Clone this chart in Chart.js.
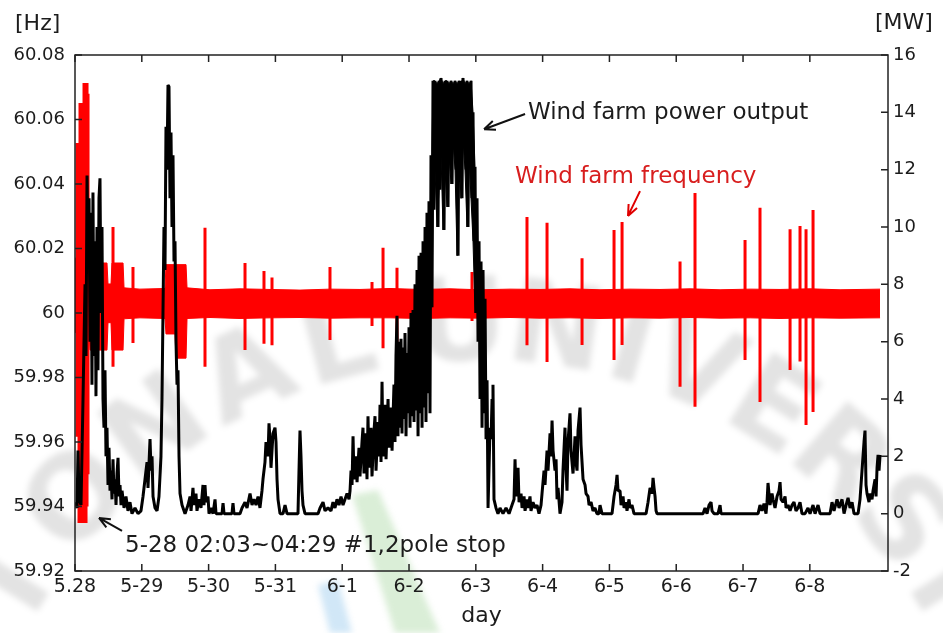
<!DOCTYPE html>
<html lang="en">
<head>
<meta charset="UTF-8" />
<title>Wind farm frequency / power output</title>
<script src="https://cdn.jsdelivr.net/npm/chart.js"></script>
<style>
  html, body { margin: 0; padding: 0; background: #fff; }
</style>
</head>
<body>
<canvas id="grafico" width="943" height="633"></canvas>
<script>
// eixo x: dias desde 5-28 00:00
const dayLabels = ['5.28', '5-29', '5-30', '5-31', '6-1', '6-2', '6-3', '6-4', '6-5', '6-6', '6-7', '6-8'];
const hzLabels = ['59.92', '59.94', '59.96', '59.98', '60', '60.02', '60.04', '60.06', '60.08'];
const mwLabels = ['-2', '0', '2', '4', '6', '8', '10', '12', '14', '16'];

// potencia do parque eolico [dia, MW]
const powerOutput = [
  [0.000, 0.4], [0.030, 0.2], [0.045, 2.2], [0.060, 0.5], [0.090, 0.3], [0.120, 4.0], [0.150, 8.0], [0.165, 5.5],
  [0.180, 11.8], [0.195, 9.0], [0.210, 11.0], [0.225, 6.0], [0.240, 10.5], [0.254, 4.5], [0.269, 11.2], [0.284, 5.5],
  [0.299, 9.5], [0.314, 4.1], [0.329, 10.0], [0.344, 5.0], [0.359, 11.0], [0.374, 11.7], [0.389, 7.0], [0.404, 10.0],
  [0.419, 4.0], [0.434, 3.0], [0.449, 5.0], [0.464, 2.0], [0.479, 3.0], [0.494, 1.0], [0.509, 2.3], [0.524, 0.8],
  [0.539, 1.5], [0.554, 0.5], [0.569, 1.9], [0.584, 0.7], [0.599, 1.2], [0.614, 0.3], [0.629, 1.4], [0.644, 1.95],
  [0.659, 0.6], [0.674, 1.0], [0.689, 0.3], [0.704, 0.8], [0.734, 0.2], [0.763, 0.6], [0.793, 0.1], [0.823, 0.4],
  [0.853, 0.0], [0.898, 0.2], [0.943, 0.0], [0.988, 0.1], [1.018, 0.6], [1.048, 1.2], [1.078, 1.8], [1.093, 0.9],
  [1.123, 2.6], [1.138, 1.5], [1.153, 2.0], [1.168, 0.6], [1.198, 0.2], [1.228, 0.1], [1.257, 0.6], [1.287, 2.0],
  [1.302, 4.0], [1.317, 7.0], [1.332, 10.0], [1.347, 8.5], [1.362, 13.5], [1.377, 12.0], [1.392, 14.95], [1.407, 14.9],
  [1.422, 11.0], [1.437, 13.3], [1.452, 10.0], [1.467, 12.5], [1.482, 8.8], [1.497, 9.5], [1.512, 6.0], [1.527, 4.5],
  [1.542, 5.0], [1.557, 2.0], [1.572, 0.7], [1.602, 0.3], [1.647, 0.0], [1.692, 0.3], [1.722, 0.6], [1.737, 0.1],
  [1.766, 0.9], [1.781, 0.3], [1.811, 0.7], [1.826, 0.1], [1.856, 0.5], [1.886, 0.2], [1.916, 1.0], [1.931, 0.3],
  [1.946, 1.0], [1.961, 0.4], [1.991, 0.6], [2.006, 0.0], [2.036, 0.2], [2.066, 0.0], [2.096, 0.5], [2.111, 0.0],
  [2.201, 0.0], [2.216, 0.37], [2.231, 0.0], [2.350, 0.0], [2.365, 0.37], [2.380, 0.0], [2.470, 0.0], [2.500, 0.2],
  [2.545, 0.4], [2.575, 0.2], [2.620, 0.7], [2.650, 0.3], [2.680, 0.5], [2.710, 0.3], [2.740, 0.6], [2.769, 0.2],
  [2.799, 0.8], [2.814, 1.2], [2.844, 1.8], [2.859, 2.5], [2.889, 2.0], [2.904, 3.15], [2.919, 2.6], [2.934, 1.6],
  [2.964, 2.8], [2.994, 3.0], [3.009, 2.5], [3.024, 1.2], [3.039, 0.5], [3.069, 0.0], [3.114, 0.0], [3.144, 0.3],
  [3.174, 0.0], [3.338, 0.0], [3.353, 1.5], [3.368, 2.9], [3.383, 2.0], [3.398, 0.8], [3.413, 0.3], [3.443, 0.0],
  [3.638, 0.0], [3.668, 0.2], [3.713, 0.4], [3.743, 0.1], [3.787, 0.2], [3.832, 0.1], [3.862, 0.4], [3.892, 0.2],
  [3.922, 0.5], [3.952, 0.3], [3.982, 0.6], [4.012, 0.3], [4.042, 0.5], [4.072, 0.7], [4.102, 0.5], [4.117, 0.8],
  [4.132, 1.5], [4.147, 1.0], [4.162, 2.7], [4.177, 1.2], [4.207, 2.0], [4.222, 1.1], [4.251, 2.3], [4.266, 1.3],
  [4.296, 2.5], [4.311, 3.0], [4.326, 1.4], [4.356, 2.8], [4.371, 1.2], [4.386, 3.4], [4.401, 1.6], [4.431, 3.0],
  [4.446, 1.3], [4.476, 2.9], [4.491, 3.4], [4.506, 1.5], [4.536, 3.2], [4.551, 2.0], [4.566, 3.8], [4.581, 1.8],
  [4.596, 4.6], [4.611, 2.0], [4.641, 3.8], [4.656, 1.9], [4.686, 4.0], [4.701, 2.3], [4.731, 3.7], [4.746, 2.2],
  [4.775, 4.5], [4.790, 2.5], [4.805, 5.5], [4.820, 6.9], [4.835, 2.7], [4.850, 6.0], [4.865, 3.0], [4.880, 6.1],
  [4.895, 2.8], [4.910, 5.8], [4.925, 3.3], [4.940, 6.3], [4.955, 2.7], [4.970, 5.6], [4.985, 3.5], [5.000, 6.5],
  [5.015, 3.0], [5.030, 7.0], [5.045, 3.4], [5.060, 7.1], [5.075, 3.2], [5.090, 8.0], [5.105, 3.6], [5.120, 8.5],
  [5.135, 2.7], [5.150, 9.0], [5.165, 3.5], [5.180, 9.1], [5.195, 3.0], [5.210, 9.5], [5.225, 3.7], [5.240, 10.0],
  [5.254, 3.2], [5.269, 10.5], [5.284, 4.2], [5.299, 10.9], [5.314, 3.5], [5.329, 12.5], [5.344, 7.2], [5.359, 15.1],
  [5.374, 10.6], [5.389, 15.1], [5.404, 12.0], [5.419, 15.0], [5.434, 10.0], [5.449, 15.1], [5.464, 11.3], [5.479, 15.2],
  [5.494, 12.5], [5.509, 15.0], [5.524, 9.9], [5.539, 15.1], [5.554, 12.0], [5.569, 15.1], [5.584, 10.7], [5.599, 15.0],
  [5.614, 12.5], [5.629, 15.1], [5.644, 11.5], [5.659, 15.0], [5.674, 13.0], [5.689, 15.1], [5.704, 12.0], [5.719, 15.0],
  [5.734, 9.0], [5.749, 15.1], [5.763, 12.5], [5.778, 15.0], [5.793, 11.0], [5.808, 15.2], [5.823, 13.1], [5.838, 15.0],
  [5.853, 12.0], [5.868, 15.1], [5.883, 10.0], [5.898, 15.0], [5.913, 12.5], [5.928, 15.1], [5.943, 11.0], [5.958, 14.0],
  [5.973, 9.5], [5.988, 12.1], [6.003, 7.0], [6.018, 11.0], [6.033, 6.0], [6.048, 9.5], [6.063, 4.0], [6.078, 8.8],
  [6.093, 3.0], [6.108, 8.5], [6.123, 3.5], [6.138, 7.5], [6.153, 2.6], [6.168, 4.65], [6.183, 0.2], [6.213, 3.0],
  [6.228, 2.6], [6.243, 4.0], [6.257, 4.5], [6.272, 0.5], [6.302, 0.2], [6.332, 0.0], [6.362, 0.2], [6.407, 0.0],
  [6.452, 0.2], [6.497, 0.0], [6.542, 0.3], [6.572, 0.5], [6.587, 1.9], [6.602, 0.6], [6.632, 1.6], [6.647, 0.4],
  [6.677, 0.7], [6.692, 0.2], [6.722, 0.6], [6.737, 0.1], [6.766, 0.5], [6.781, 0.2], [6.811, 0.6], [6.826, 0.1],
  [6.856, 0.4], [6.886, 0.2], [6.916, 0.3], [6.946, 0.0], [6.976, 0.3], [6.991, 0.7], [7.021, 1.5], [7.036, 1.0],
  [7.066, 2.2], [7.081, 1.5], [7.111, 2.8], [7.126, 2.0], [7.141, 3.25], [7.156, 2.2], [7.186, 1.5], [7.201, 1.9],
  [7.216, 0.5], [7.231, 0.9], [7.260, 0.0], [7.290, 0.4], [7.305, 1.5], [7.335, 3.0], [7.350, 1.6], [7.365, 0.8],
  [7.380, 2.5], [7.410, 3.5], [7.425, 2.2], [7.455, 1.4], [7.470, 2.0], [7.485, 2.7], [7.500, 1.8], [7.515, 1.5],
  [7.530, 2.9], [7.560, 3.7], [7.575, 2.4], [7.590, 1.8], [7.605, 1.2], [7.635, 1.0], [7.650, 0.7], [7.680, 0.6],
  [7.695, 0.3], [7.725, 0.4], [7.754, 0.1], [7.784, 0.2], [7.814, 0.0], [7.844, 0.0], [7.859, 0.3], [7.889, 0.0],
  [8.039, 0.0], [8.069, 0.6], [8.099, 1.0], [8.114, 1.35], [8.129, 0.8], [8.159, 0.8], [8.174, 0.3], [8.204, 0.6],
  [8.219, 0.2], [8.249, 0.4], [8.263, 0.1], [8.293, 0.5], [8.308, 0.2], [8.338, 0.3], [8.368, 0.0], [8.548, 0.0],
  [8.578, 0.4], [8.608, 0.9], [8.638, 0.7], [8.653, 1.25], [8.668, 0.9], [8.683, 0.6], [8.698, 0.1], [8.713, 0.0],
  [9.401, 0.0], [9.431, 0.2], [9.461, 0.0], [9.491, 0.3], [9.521, 0.4], [9.536, 0.1], [9.566, 0.0], [9.626, 0.0],
  [9.656, 0.3], [9.671, 0.0], [10.225, 0.0], [10.254, 0.3], [10.284, 0.1], [10.314, 0.35], [10.344, 0.0], [10.359, 0.4],
  [10.374, 1.07], [10.404, 0.3], [10.434, 0.7], [10.449, 0.5], [10.479, 0.2], [10.509, 0.6], [10.539, 0.8], [10.554, 1.1],
  [10.569, 0.5], [10.599, 0.4], [10.629, 0.6], [10.644, 0.2], [10.674, 0.3], [10.704, 0.1], [10.734, 0.3], [10.763, 0.4],
  [10.793, 0.1], [10.823, 0.2], [10.853, 0.4], [10.883, 0.0], [10.928, 0.0], [10.973, 0.2], [11.003, 0.0], [11.048, 0.3],
  [11.078, 0.0], [11.123, 0.3], [11.153, 0.0], [11.302, 0.0], [11.332, 0.4], [11.362, 0.1], [11.407, 0.5], [11.437, 0.2],
  [11.482, 0.5], [11.512, 0.0], [11.542, 0.3], [11.572, 0.55], [11.602, 0.2], [11.632, 0.4], [11.662, 0.0], [11.722, 0.0],
  [11.751, 0.5], [11.781, 1.5], [11.811, 2.5], [11.826, 2.9], [11.841, 1.0], [11.856, 0.7], [11.886, 0.4], [11.901, 0.7],
  [11.931, 0.5], [11.946, 0.8], [11.976, 1.2], [11.991, 0.6], [12.006, 1.6], [12.021, 2.05], [12.036, 1.5], [12.051, 2.05]
];

// trecho denso da potencia em 6-2 [dia, MW max, MW min]
const powerDense = [
  [5.344, 12.5, 7.2], [5.359, 15.1, 10.6], [5.389, 15.1, 12.0], [5.419, 15.0, 10.0], [5.449, 15.1, 11.3],
  [5.479, 15.2, 12.5], [5.509, 15.0, 9.9], [5.539, 15.1, 12.0], [5.569, 15.1, 10.7], [5.599, 15.0, 12.5],
  [5.629, 15.1, 11.5], [5.659, 15.0, 13.0], [5.689, 15.1, 12.0], [5.719, 15.0, 9.0], [5.749, 15.1, 12.5],
  [5.778, 15.0, 11.0], [5.808, 15.2, 13.1], [5.838, 15.0, 12.0], [5.868, 15.1, 10.0], [5.898, 15.0, 12.5],
  [5.928, 15.1, 11.0], [5.958, 14.0, 9.5], [5.988, 12.1, 7.0]
];

// faixa de ruido da frequencia [dia, Hz max, Hz min]
const freqBand = [
  [0.000, 60.017, 59.994], [0.210, 60.017, 59.994], [0.225, 60.0155, 59.9885], [0.479, 60.0155, 59.9885],
  [0.494, 60.009, 59.997], [0.539, 60.009, 59.997], [0.554, 60.0155, 59.9885], [0.719, 60.0155, 59.9885],
  [0.734, 60.0078, 59.9982], [0.973, 60.0074, 59.9985], [1.347, 60.0076, 59.9983], [1.362, 60.015, 59.9935],
  [1.497, 60.015, 59.9935], [1.512, 60.015, 59.986], [1.662, 60.015, 59.986], [1.677, 60.0078, 59.9983],
  [2.021, 60.0072, 59.9986], [2.470, 60.0075, 59.9983], [2.919, 60.0073, 59.9985], [3.368, 60.0071, 59.9986],
  [3.817, 60.0074, 59.9984], [4.266, 60.0073, 59.9985], [4.716, 60.0076, 59.9985], [5.165, 60.0073, 59.9983],
  [5.614, 60.0075, 59.9985], [6.063, 60.0072, 59.9984], [6.512, 60.0074, 59.9986], [6.961, 60.0073, 59.9984],
  [7.410, 60.0075, 59.9985], [7.859, 60.0072, 59.9983], [8.308, 60.0074, 59.9985], [8.757, 60.0073, 59.9984],
  [9.207, 60.0075, 59.9986], [9.656, 60.0072, 59.9984], [10.105, 60.0074, 59.9985], [10.554, 60.0073, 59.9983],
  [11.003, 60.0075, 59.9985], [11.452, 60.0072, 59.9984], [12.051, 60.0074, 59.9985]
];

// picos da frequencia [dia, Hz max, Hz min]
const freqSpikes = [
  [0.030, 60.0527, 59.9616], [0.045, 60.0527, 59.9616], [0.060, 60.0527, 59.9349], [0.075, 60.0651, 59.9349],
  [0.090, 60.0651, 59.9349], [0.105, 60.0651, 59.9349], [0.120, 60.0651, 59.9349], [0.135, 60.0713, 59.9349],
  [0.150, 60.0713, 59.9349], [0.165, 60.0713, 59.9349], [0.180, 60.0713, 59.9400], [0.195, 60.0680, 59.9500],
  [0.569, 60.0267, 59.9833], [0.868, 60.0143, 59.9907], [1.946, 60.0264, 59.9833], [2.545, 60.0155, 59.9885],
  [2.829, 60.0130, 59.9905], [2.949, 60.0110, 59.9900], [3.817, 60.0143, 59.9916], [4.446, 60.0096, 59.9960],
  [4.611, 60.0202, 59.9891], [4.820, 60.0140, 59.9907], [5.943, 60.0127, 59.9975], [6.766, 60.0298, 59.9900],
  [7.066, 60.0280, 59.9848], [7.590, 60.0170, 59.9901], [8.069, 60.0257, 59.9854], [8.189, 60.0282, 59.9901],
  [9.057, 60.0160, 59.9771], [9.281, 60.0372, 59.9709], [10.030, 60.0226, 59.9854], [10.254, 60.0326, 59.9724],
  [10.704, 60.0260, 59.9823], [10.853, 60.0270, 59.9850], [10.943, 60.0260, 59.9653], [11.048, 60.0319, 59.9693]
];

const xMax = 12.17;
const fonte = 'DejaVu Sans';
const corTexto = '#1c1c1c';

// marcas internas dos eixos + caixa
const eixosInternos = {
  id: 'eixosInternos',
  afterDraw(chart) {
    const { ctx, chartArea: a, scales } = chart;
    ctx.save();
    ctx.strokeStyle = '#222';
    ctx.lineWidth = 1.5;
    ctx.beginPath();
    dayLabels.forEach((_, i) => {
      const px = scales.x.getPixelForValue(i);
      ctx.moveTo(px, a.bottom); ctx.lineTo(px, a.bottom - 7);
      ctx.moveTo(px, a.top); ctx.lineTo(px, a.top + 7);
    });
    hzLabels.forEach(l => {
      const py = scales.yL.getPixelForValue(parseFloat(l));
      ctx.moveTo(a.left, py); ctx.lineTo(a.left + 7, py);
    });
    mwLabels.forEach(l => {
      const py = scales.yR.getPixelForValue(parseFloat(l));
      ctx.moveTo(a.right, py); ctx.lineTo(a.right - 7, py);
    });
    ctx.stroke();
    ctx.strokeRect(a.left, a.top, a.right - a.left, a.bottom - a.top);
    ctx.restore();
  }
};

function seta(ctx, x1, y1, x2, y2, cor) {
  const ang = Math.atan2(y2 - y1, x2 - x1);
  ctx.strokeStyle = cor;
  ctx.lineWidth = 2;
  ctx.beginPath();
  ctx.moveTo(x1, y1); ctx.lineTo(x2, y2);
  ctx.moveTo(x2, y2); ctx.lineTo(x2 - 12 * Math.cos(ang - 0.4), y2 - 12 * Math.sin(ang - 0.4));
  ctx.moveTo(x2, y2); ctx.lineTo(x2 - 12 * Math.cos(ang + 0.4), y2 - 12 * Math.sin(ang + 0.4));
  ctx.stroke();
}

// textos e setas de anotacao
const anotacoes = {
  id: 'anotacoes',
  afterDraw(chart) {
    const { ctx, chartArea: a, scales } = chart;
    const x = scales.x, yL = scales.yL, yR = scales.yR;
    ctx.save();
    ctx.textBaseline = 'middle';
    ctx.fillStyle = corTexto;
    ctx.font = `22px "${fonte}"`;
    ctx.textAlign = 'left';
    ctx.fillText('[Hz]', 15, 24);
    ctx.fillText('[MW]', 875, 23);
    ctx.textAlign = 'center';
    ctx.fillText('day', (a.left + a.right) / 2, 616);

    ctx.textAlign = 'left';
    ctx.font = `23px "${fonte}"`;
    ctx.fillText('Wind farm power output', x.getPixelForValue(6.781), yR.getPixelForValue(13.98));
    seta(ctx, x.getPixelForValue(6.737), yR.getPixelForValue(13.94), x.getPixelForValue(6.123), yR.getPixelForValue(13.41), '#111');

    ctx.fillStyle = '#d81e1e';
    ctx.fillText('Wind farm frequency', x.getPixelForValue(6.587), yL.getPixelForValue(60.0422));
    seta(ctx, x.getPixelForValue(8.458), yL.getPixelForValue(60.0378), x.getPixelForValue(8.278), yL.getPixelForValue(60.0301), '#e00000');

    ctx.fillStyle = corTexto;
    ctx.fillText('5-28 02:03~04:29 #1,2pole stop', x.getPixelForValue(0.749), yR.getPixelForValue(-1.127));
    seta(ctx, x.getPixelForValue(0.704), yR.getPixelForValue(-0.60), x.getPixelForValue(0.359), yR.getPixelForValue(-0.15), '#111');
    ctx.restore();
  }
};

// marca d'agua do documento original
const marcaDagua = {
  id: 'marcaDagua',
  beforeDraw(chart) {
    const ctx = chart.ctx;
    ctx.save();
    ctx.fillStyle = '#fff';
    ctx.fillRect(0, 0, chart.width, chart.height);
    ctx.filter = 'blur(3px)';
    ctx.fillStyle = 'rgba(150, 205, 140, 0.35)';
    ctx.beginPath();
    ctx.moveTo(352, 495); ctx.lineTo(378, 490); ctx.lineTo(440, 633); ctx.lineTo(395, 633);
    ctx.closePath(); ctx.fill();
    ctx.fillStyle = 'rgba(140, 195, 235, 0.4)';
    ctx.beginPath();
    ctx.moveTo(318, 585); ctx.lineTo(338, 580); ctx.lineTo(352, 633); ctx.lineTo(330, 633);
    ctx.closePath(); ctx.fill();

    ctx.fillStyle = 'rgba(0, 0, 0, 0.11)';
    ctx.font = `bold 115px "${fonte}"`;
    ctx.textAlign = 'center';
    ctx.textBaseline = 'middle';
    const letras = [['I', -58], ['O', -47], ['N', -36], ['A', -25], ['L', -15], ['U', -2], ['N', 8], ['I', 16], ['V', 23], ['E', 32], ['R', 41], ['S', 50], ['I', 58]];
    letras.forEach(([c, g]) => {
      const t = g * Math.PI / 180;
      ctx.save();
      ctx.translate(480 + 545 * Math.sin(t), 875 - 545 * Math.cos(t));
      ctx.rotate(t);
      ctx.fillText(c, 0, 0);
      ctx.restore();
    });
    ctx.restore();
  }
};

const dados = {
  datasets: [
    {
      label: 'power dense min',
      data: powerDense.map(p => ({ x: p[0], y: p[2] })),
      yAxisID: 'yR',
      borderColor: '#000',
      backgroundColor: '#000',
      borderWidth: 1,
      pointRadius: 0,
      fill: '+1'
    },
    {
      label: 'power dense max',
      data: powerDense.map(p => ({ x: p[0], y: p[1] })),
      yAxisID: 'yR',
      borderColor: '#000',
      borderWidth: 1,
      pointRadius: 0,
      fill: false
    },
    {
      label: 'Wind farm power output',
      data: powerOutput.map(p => ({ x: p[0], y: p[1] })),
      yAxisID: 'yR',
      borderColor: '#000',
      borderWidth: 3,
      borderJoinStyle: 'bevel',
      pointRadius: 0,
      tension: 0,
      fill: false
    },
    {
      label: 'band max',
      data: freqBand.map(b => ({ x: b[0], y: b[1] })),
      yAxisID: 'yL',
      borderColor: '#ff0000',
      borderWidth: 1,
      pointRadius: 0,
      fill: false
    },
    {
      label: 'band min',
      data: freqBand.map(b => ({ x: b[0], y: b[2] })),
      yAxisID: 'yL',
      borderColor: '#ff0000',
      backgroundColor: '#ff0000',
      borderWidth: 1,
      pointRadius: 0,
      fill: '-1'
    },
    {
      label: 'Wind farm frequency',
      data: freqSpikes.flatMap(s => [{ x: s[0], y: s[1] }, { x: s[0], y: s[2] }, { x: s[0], y: null }]),
      yAxisID: 'yL',
      borderColor: '#ff0000',
      borderWidth: 3,
      borderCapStyle: 'butt',
      pointRadius: 0,
      spanGaps: false,
      fill: false
    }
  ]
};

const config = {
  type: 'line',
  data: dados,
  options: {
    responsive: false,
    animation: false,
    devicePixelRatio: 1,
    layout: { padding: { top: 55, left: 0, right: 0, bottom: 0 } },
    plugins: { legend: { display: false }, tooltip: { enabled: false } },
    scales: {
      x: {
        type: 'linear',
        position: 'bottom',
        min: 0,
        max: xMax,
        afterBuildTicks: s => { s.ticks = dayLabels.map((_, i) => ({ value: i })); },
        afterFit: s => { s.height = 62; },
        grid: { display: false, drawTicks: false },
        border: { display: false },
        ticks: {
          autoSkip: false,
          maxRotation: 0,
          padding: 5,
          color: corTexto,
          font: { family: fonte, size: 19 },
          callback: (v, i) => dayLabels[i]
        }
      },
      yL: {
        type: 'linear',
        position: 'left',
        min: 59.92,
        max: 60.08,
        afterBuildTicks: s => { s.ticks = hzLabels.map(l => ({ value: parseFloat(l) })); },
        afterFit: s => { s.width = 75; },
        grid: { display: false, drawTicks: false },
        border: { display: false },
        ticks: {
          autoSkip: false,
          padding: 10,
          color: corTexto,
          font: { family: fonte, size: 18 },
          callback: (v, i) => hzLabels[i]
        }
      },
      yR: {
        type: 'linear',
        position: 'right',
        min: -2,
        max: 16,
        afterBuildTicks: s => { s.ticks = mwLabels.map(l => ({ value: parseFloat(l) })); },
        afterFit: s => { s.width = 55; },
        grid: { display: false, drawTicks: false },
        border: { display: false },
        ticks: {
          autoSkip: false,
          padding: 5,
          color: corTexto,
          font: { family: fonte, size: 18 },
          callback: (v, i) => mwLabels[i]
        }
      }
    }
  },
  plugins: [marcaDagua, eixosInternos, anotacoes]
};

new Chart(document.getElementById('grafico'), config);
</script>
</body>
</html>
